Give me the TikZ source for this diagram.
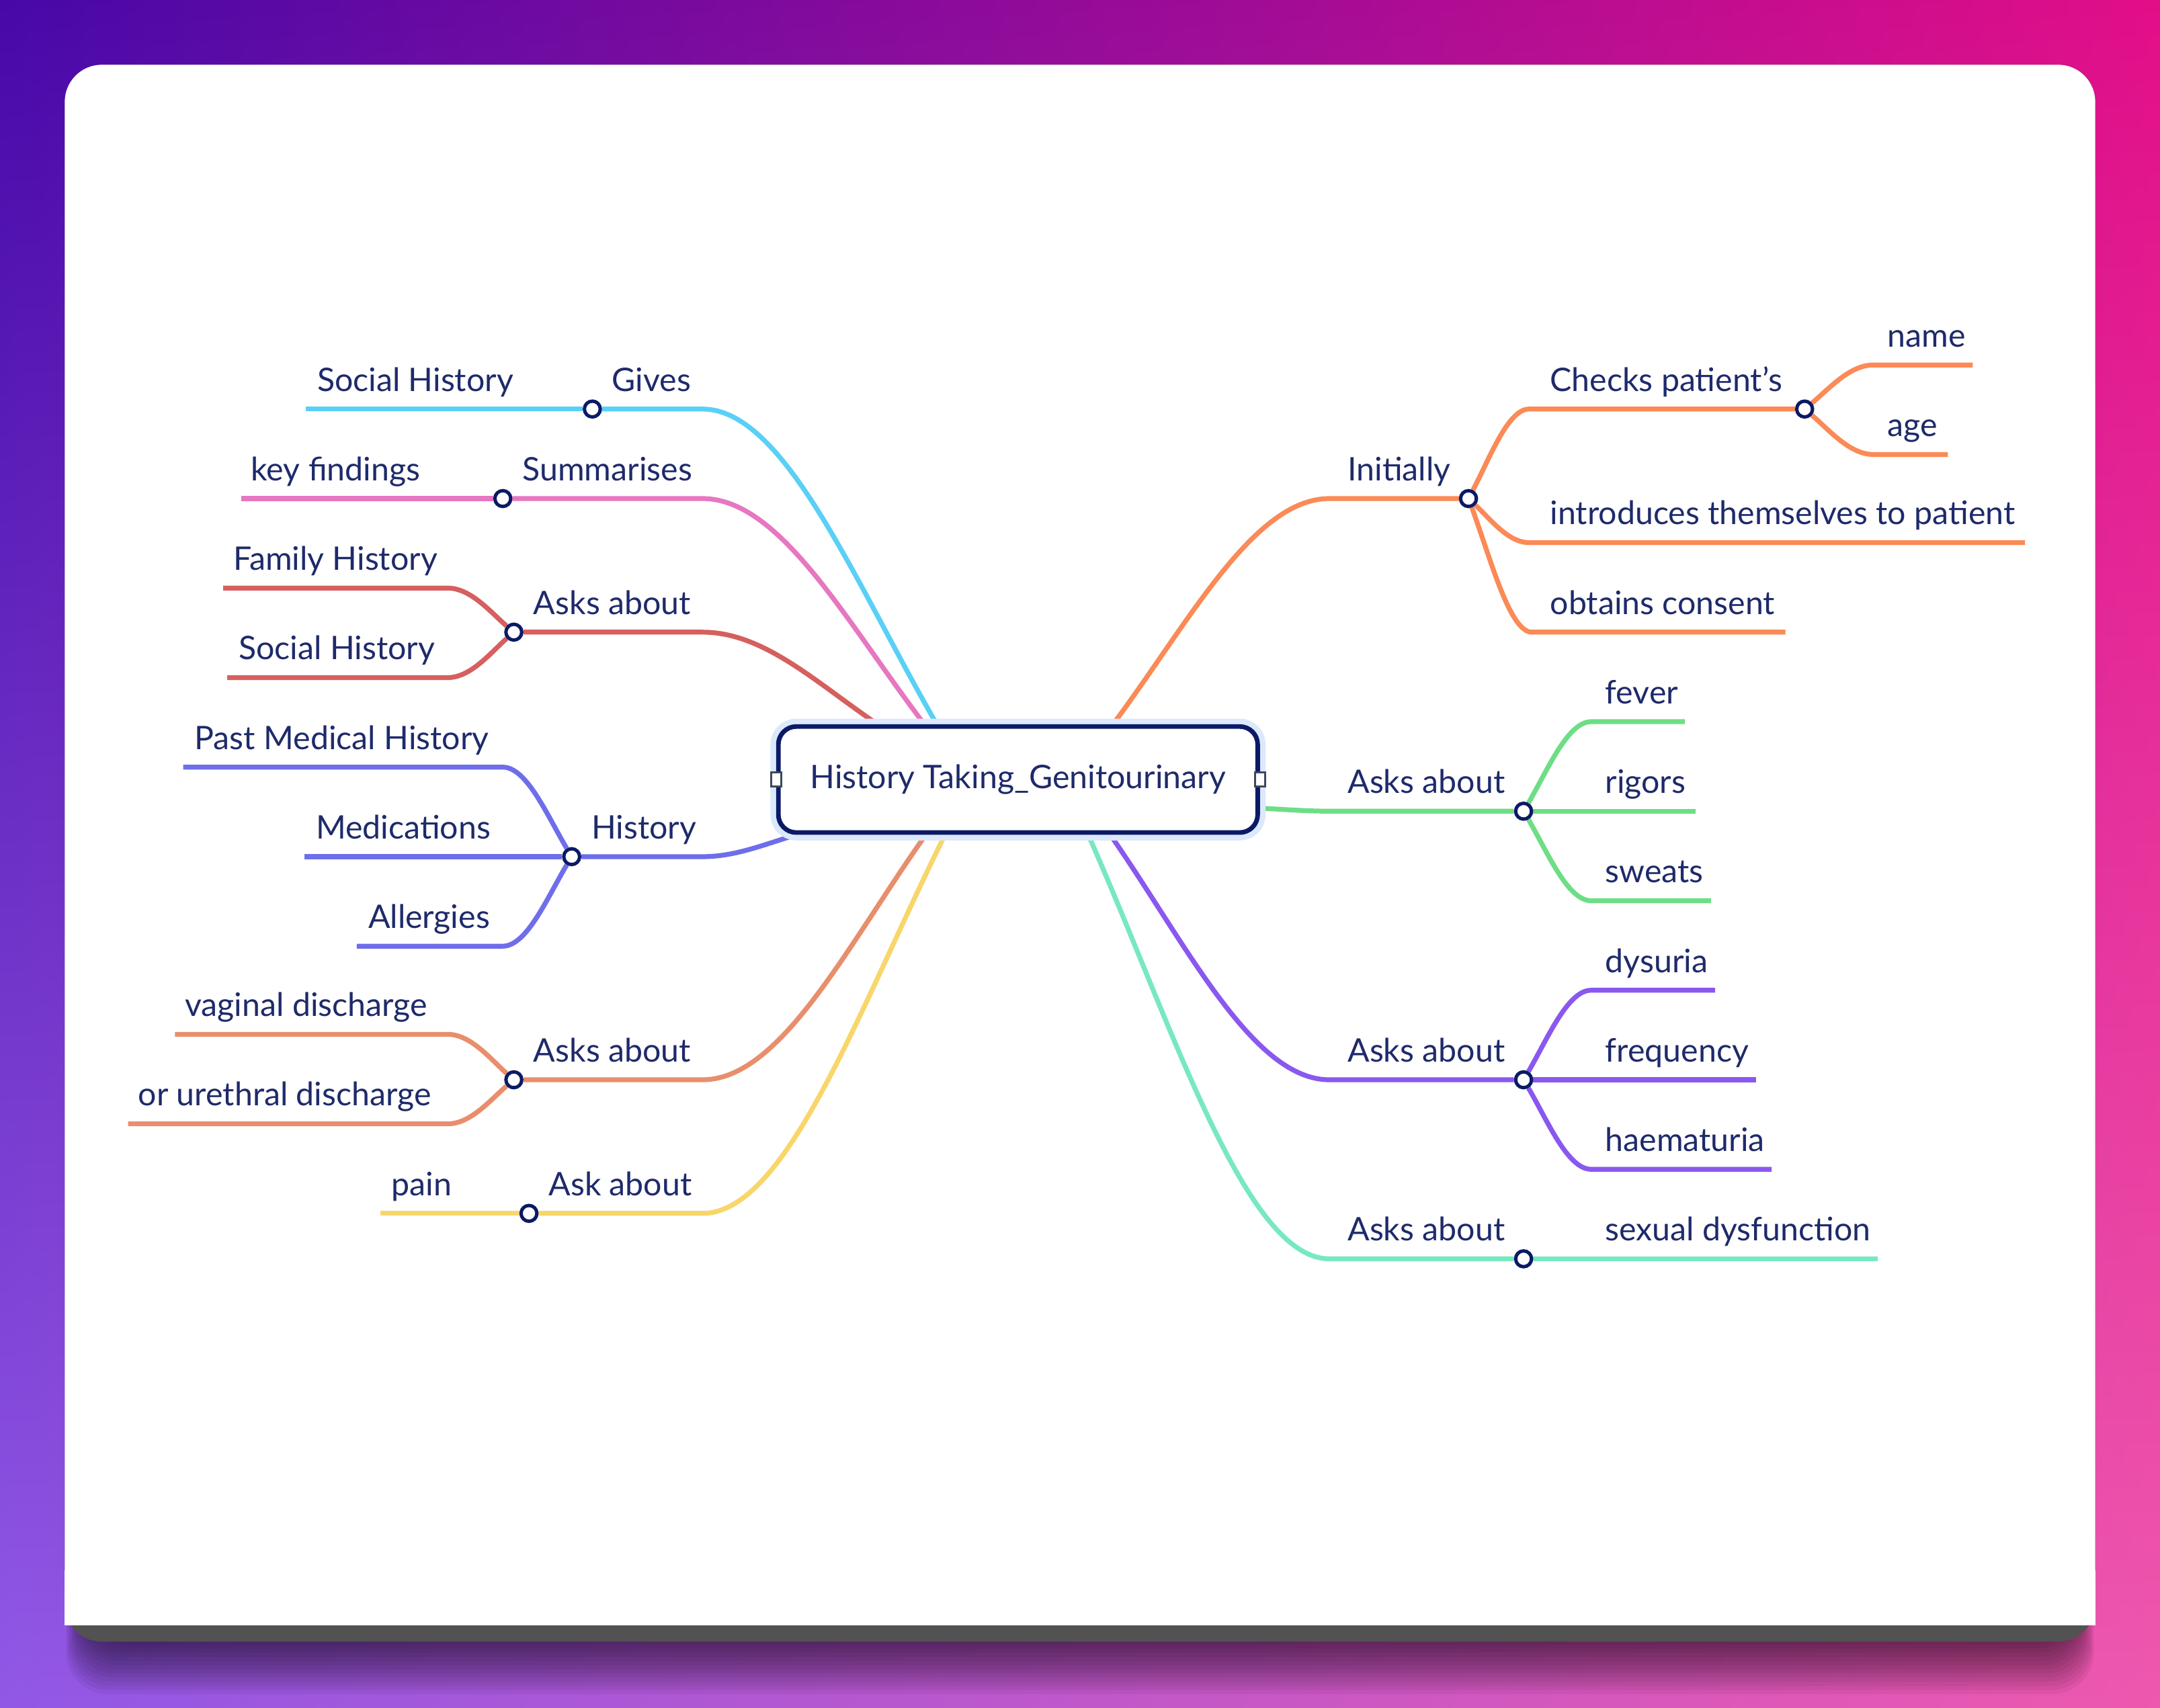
\documentclass[tikz,border=0pt]{standalone}
\usepackage{fontspec}
\setmainfont{Lato}
\usetikzlibrary{calc,shadings}

\definecolor{ink}{HTML}{1E2A6A}
\definecolor{navy}{HTML}{0B1A66}
\definecolor{halo}{HTML}{DCE8FB}
\definecolor{portgray}{HTML}{3B4A5C}
\definecolor{cardgray}{HTML}{525252}
\definecolor{bgTL}{HTML}{4708A8}
\definecolor{bgTR}{HTML}{E20E88}
\definecolor{bgBL}{HTML}{9158E6}
\definecolor{bgBR}{HTML}{EE58AE}
\definecolor{cOrange}{HTML}{FB8A56}
\definecolor{cGreen}{HTML}{6EDE86}
\definecolor{cPurple}{HTML}{8A58EE}
\definecolor{cTeal}{HTML}{78E8C0}
\definecolor{cCyan}{HTML}{5AD0F6}
\definecolor{cPink}{HTML}{E677C0}
\definecolor{cRed}{HTML}{D65F5F}
\definecolor{cViolet}{HTML}{6E6EEA}
\definecolor{cSalmon}{HTML}{E88E6C}
\definecolor{cYellow}{HTML}{F8D66A}

\pgfdeclarelayer{back}
\pgfdeclarelayer{wires}
\pgfsetlayers{back,wires,main}

\begin{document}
\begin{tikzpicture}[x=0.02cm, y=-0.02cm,
  lbl/.style={anchor=base west, inner sep=0pt, text=ink, font=\fontsize{13.4}{16}\selectfont},
  hub/.style={circle, draw=navy, fill=white, line width=1.4pt, minimum size=0.23cm, inner sep=0pt},
  root/.style={draw=navy, line width=1.9pt, fill=white, rounded corners=0.26cm,
    minimum width=6.96cm, minimum height=1.54cm, text=ink, font=\fontsize{13.4}{16}\selectfont,
    preaction={draw=halo, line width=6.5pt}},
  port/.style={draw=portgray, fill=white, line width=0.8pt, minimum width=0.15cm,
    minimum height=0.2cm, inner sep=0pt},
  wire/.style={draw=#1, line width=2pt},
  twig/.style={to path={let \p1=(\tikztostart), \p2=(\tikztotarget), \p3=($(\x1,\y2)+(#1,0)$) in
    .. controls ({\x1+0.35*(\x3-\x1)},{\y1+0.45*(\y3-\y1)}) and ({\x3-0.35*(\x3-\x1)},\y3) .. (\p3)
    -- (\tikztotarget)}}]
\useasboundingbox (0,0) rectangle (1568,1240);

% backdrop and card
\begin{pgfonlayer}{back}
\shade[shading=bilinear interpolation, upper left=bgTL, upper right=bgTR,
  lower left=bgBL, lower right=bgBR] (0,0) rectangle (1568,1240);
\foreach \s in {0,3,...,36}
  \fill[black, fill opacity=0.05, rounded corners=0.6cm] ({60-\s/3},900) rectangle ({1508+\s/3},{1194+\s});
\fill[cardgray, rounded corners=0.54cm] (47,47) rectangle (1521,1192);
\fill[white, rounded corners=0.54cm] (47,47) rectangle (1521,1180);
\fill[white] (47,1140) rectangle (1521,1180);
\end{pgfonlayer}

% central topic
\node[root] (root) at (739,566) {History Taking\_Genitourinary};
\node[port] (pl) at (root.west) {};
\node[port] (pr) at (root.east) {};

% hubs
\node[hub] (ini) at (1066,362) {};
\node[hub] (chk) at (1310,297) {};
\node[hub] (askA) at (1106,589) {};
\node[hub] (askU) at (1106,784) {};
\node[hub] (askS) at (1106,914) {};
\node[hub] (gives) at (430,297) {};
\node[hub] (summ) at (365,362) {};
\node[hub] (askF) at (373,459) {};
\node[hub] (hist) at (415,622) {};
\node[hub] (askD) at (373,784) {};
\node[hub] (askP) at (384,881) {};

% leaf ends
\coordinate (e-name) at (1432,265);
\coordinate (e-age) at (1414,330);
\coordinate (e-intro) at (1470,394);
\coordinate (e-consent) at (1296,459);
\coordinate (e-fever) at (1223,524);
\coordinate (e-rigors) at (1231,589);
\coordinate (e-sweats) at (1242,654);
\coordinate (e-dysuria) at (1245,719);
\coordinate (e-freq) at (1275,784);
\coordinate (e-haem) at (1286,849);
\coordinate (e-sex) at (1363,914);
\coordinate (e-soc1) at (222,297);
\coordinate (e-key) at (175,362);
\coordinate (e-fam) at (162,427);
\coordinate (e-soc2) at (165,492);
\coordinate (e-pmh) at (133,557);
\coordinate (e-med) at (221,622);
\coordinate (e-alg) at (259,687);
\coordinate (e-vag) at (127,751);
\coordinate (e-ure) at (93,816);
\coordinate (e-pain) at (276,881);

\begin{pgfonlayer}{wires}
% right side
\draw[wire=cOrange] ($(root.north)+(69,0)$) to[twig=157] (ini);
\draw[wire=cOrange] (ini) to[twig=44] (chk);
\draw[wire=cOrange] (chk) to[twig=50] (e-name);
\draw[wire=cOrange] (chk) to[twig=50] (e-age);
\draw[wire=cOrange] (ini) to[twig=44] (e-intro);
\draw[wire=cOrange] (ini) to[twig=46] (e-consent);
\draw[wire=cGreen] ($(root.east)+(4,21)$) to[twig=48] (askA);
\draw[wire=cGreen] (askA) to[twig=49] (e-fever);
\draw[wire=cGreen] (askA) -- (e-rigors);
\draw[wire=cGreen] (askA) to[twig=49] (e-sweats);
\draw[wire=cPurple] ($(root.south)+(67,0)$) to[twig=159] (askU);
\draw[wire=cPurple] (askU) to[twig=49] (e-dysuria);
\draw[wire=cPurple] (askU) -- (e-freq);
\draw[wire=cPurple] (askU) to[twig=49] (e-haem);
\draw[wire=cTeal] ($(root.south)+(51,0)$) to[twig=175] (askS);
\draw[wire=cTeal] (askS) -- (e-sex);
% left side
\draw[wire=cCyan] ($(root.north)+(-59,0)$) to[twig=-170] (gives);
\draw[wire=cCyan] (gives) -- (e-soc1);
\draw[wire=cPink] ($(root.north)+(-68,0)$) to[twig=-161] (summ);
\draw[wire=cPink] (summ) -- (e-key);
\draw[wire=cRed] ($(root.north)+(-102,0)$) to[twig=-127] (askF);
\draw[wire=cRed] (askF) to[twig=-48] (e-fam);
\draw[wire=cRed] (askF) to[twig=-48] (e-soc2);
\draw[wire=cViolet] ($(root.south)+(-161,0)$) to[twig=-68] (hist);
\draw[wire=cViolet] (hist) to[twig=-50] (e-pmh);
\draw[wire=cViolet] (hist) -- (e-med);
\draw[wire=cViolet] (hist) to[twig=-50] (e-alg);
\draw[wire=cSalmon] ($(root.south)+(-67,0)$) to[twig=-162] (askD);
\draw[wire=cSalmon] (askD) to[twig=-48] (e-vag);
\draw[wire=cSalmon] (askD) to[twig=-48] (e-ure);
\draw[wire=cYellow] ($(root.south)+(-53,0)$) to[twig=-176] (askP);
\draw[wire=cYellow] (askP) -- (e-pain);
\end{pgfonlayer}

% labels, right
\node[lbl] (t-ini) at (978,349) {Initially};
\node[lbl] (t-chk) at (1125,284) {Checks patient’s};
\node[lbl] (t-name) at (1370,252) {name};
\node[lbl] (t-age) at (1370,317) {age};
\node[lbl] (t-intro) at (1125,381) {introduces themselves to patient};
\node[lbl] (t-consent) at (1125,446) {obtains consent};
\node[lbl] (t-askA) at (978,576) {Asks about};
\node[lbl] (t-fever) at (1165,511) {fever};
\node[lbl] (t-rigors) at (1165,576) {rigors};
\node[lbl] (t-sweats) at (1165,641) {sweats};
\node[lbl] (t-askU) at (978,771) {Asks about};
\node[lbl] (t-dysuria) at (1165,706) {dysuria};
\node[lbl] (t-freq) at (1165,771) {frequency};
\node[lbl] (t-haem) at (1165,836) {haematuria};
\node[lbl] (t-askS) at (978,901) {Asks about};
\node[lbl] (t-sex) at (1165,901) {sexual dysfunction};
% labels, left
\node[lbl] (t-gives) at (444,284) {Gives};
\node[lbl] (t-soc1) at (230,284) {Social History};
\node[lbl] (t-summ) at (379,349) {Summarises};
\node[lbl] (t-key) at (182,349) {key findings};
\node[lbl] (t-askF) at (387,446) {Asks about};
\node[lbl] (t-fam) at (169,414) {Family History};
\node[lbl] (t-soc2) at (173,479) {Social History};
\node[lbl] (t-hist) at (429,609) {History};
\node[lbl] (t-pmh) at (141,544) {Past Medical History};
\node[lbl] (t-med) at (229,609) {Medications};
\node[lbl] (t-alg) at (267,674) {Allergies};
\node[lbl] (t-askD) at (387,771) {Asks about};
\node[lbl] (t-vag) at (134,738) {vaginal discharge};
\node[lbl] (t-ure) at (100,803) {or urethral discharge};
\node[lbl] (t-askP) at (398,868) {Ask about};
\node[lbl] (t-pain) at (284,868) {pain};
\end{tikzpicture}
\end{document}
